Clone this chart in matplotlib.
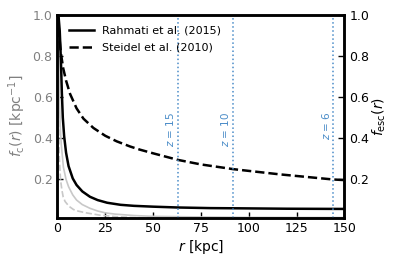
import matplotlib
matplotlib.use("Agg")
import matplotlib.pyplot as plt

# values
r_rahmati = [0.5, 1.2, 1.8, 2.3, 2.8, 3.5, 4.5, 5.8, 8, 10, 13, 17, 21, 26, 33, 40, 50, 63, 80, 95, 120, 150]
fesc_rahmati = [1.0, 0.92, 0.78, 0.62, 0.5, 0.41, 0.33, 0.265, 0.205, 0.173, 0.142, 0.116, 0.1, 0.087, 0.077, 0.072, 0.068, 0.064, 0.061, 0.06, 0.058, 0.057]

r_steidel = [0.3, 0.7, 1.4, 2, 3, 4.5, 6.6, 10, 13.6, 18.8, 25, 31, 38, 43, 50, 63, 75, 92, 116, 144, 150]
fesc_steidel = [1.0, 0.93, 0.85, 0.8, 0.74, 0.68, 0.615, 0.545, 0.495, 0.45, 0.412, 0.385, 0.36, 0.345, 0.327, 0.295, 0.273, 0.25, 0.225, 0.2, 0.197]

r_fc_rahmati = [0.4, 0.6, 1.0, 1.5, 2, 3.1, 4.5, 5.8, 8, 10, 13, 17, 21, 25, 30, 40, 50, 75, 100, 150]
fc_rahmati = [1.0, 0.9, 0.6, 0.45, 0.37, 0.26, 0.2, 0.165, 0.125, 0.1, 0.078, 0.06, 0.047, 0.038, 0.032, 0.025, 0.021, 0.018, 0.016, 0.015]

r_fc_steidel = [0.3, 0.5, 1.0, 1.6, 2.3, 3, 4, 6, 8.4, 11, 15, 22, 30, 40, 60, 150]
fc_steidel = [0.7, 0.5, 0.3, 0.2, 0.15, 0.115, 0.093, 0.07, 0.054, 0.046, 0.038, 0.027, 0.02, 0.015, 0.01, 0.005]

z_labels = ["$z$ = 15", "$z$ = 10", "$z$ = 6"]
z_radius = [63.0, 91.7, 144.3]

grey = "#808080"
blue = "#4a8cc8"

fig = plt.figure(figsize=(3.99, 2.66), dpi=100)
ax = fig.add_axes([0.144, 0.182, 0.719, 0.763])
ax2 = ax.twinx()

ax.plot(r_fc_rahmati, fc_rahmati, "-", color="#c8c8c8", lw=1.2)
ax.plot(r_fc_steidel, fc_steidel, "--", color="#c8c8c8", lw=1.2)

ax2.plot(r_rahmati, fesc_rahmati, "-", color="black", lw=1.8, label="Rahmati et al. (2015)")
ax2.plot(r_steidel, fesc_steidel, "--", color="black", lw=1.8, label="Steidel et al. (2010)")

for zl, zr in zip(z_labels, z_radius):
    ax2.axvline(zr, color=blue, ls=":", lw=1.1)
    ax2.text(zr - 0.8, 0.53, zl, rotation=90, color=blue, fontsize=7.5,
             ha="right", va="top")

ylo = 0.015
ax.set_xlim(0, 150)
ax.set_ylim(ylo, 1.0)
ax2.set_ylim(ylo, 1.0)
ticks = [0.2, 0.4, 0.6, 0.8, 1.0]
ax.set_yticks(ticks)
ax2.set_yticks(ticks)
ax.set_xticks([0, 25, 50, 75, 100, 125, 150])

ax.tick_params(direction="in", labelsize=9, length=4, width=1, top=False)
ax.tick_params(axis="y", colors="black", labelcolor=grey)
ax2.tick_params(direction="in", labelsize=9, length=4, width=1)

ax.set_xlabel("$r$ [kpc]", fontsize=10, labelpad=2)
ax.set_ylabel(r"$f_{\rm c}(r)$ [kpc$^{-1}$]", fontsize=10, color=grey, labelpad=3)
ax2.set_ylabel(r"$f_{\rm esc}(r)$", fontsize=10, labelpad=1)

for a in (ax, ax2):
    for s in a.spines.values():
        s.set_linewidth(1.8)

ax2.legend(loc="upper left", frameon=False, fontsize=8, handlelength=2.3,
           borderaxespad=0.6, labelspacing=0.6, handletextpad=0.7)

fig.savefig("out.png", dpi=100)
